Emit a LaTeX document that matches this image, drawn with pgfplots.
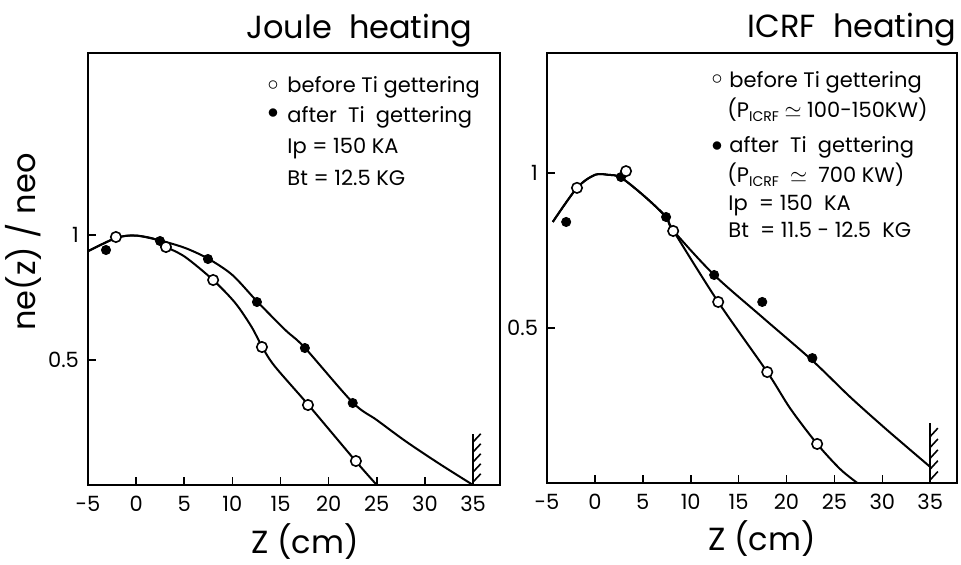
\documentclass[border=0pt]{standalone}
\usepackage{pgfplots}
\pgfplotsset{compat=1.18}
\usepackage{fontspec}
\setmainfont{Poppins}
\tikzset{hatch/.style={line width=0.8pt}}
\begin{document}
\begin{tikzpicture}
\useasboundingbox (0,0) rectangle (480.5pt,-282pt);
\pgfplotsset{
 panel/.style={
  scale only axis, anchor=south west,
  xmin=-5, xmax=37.8, ymin=0,
  axis line style={line width=1pt},
  xtick={-5,0,...,35}, ytick={0.5,1},
  xtick pos=bottom, ytick pos=left, tick align=inside,
  major tick length=4pt, tick style={line width=0.8pt, black},
  /pgf/number format/assume math mode=true,
  ticklabel style={font=\fontsize{10.5}{12}\selectfont},
  xticklabel style={yshift=-2pt},
  yticklabel style={xshift=-1pt},
 },
 curve/.style={smooth, line width=1pt, black, no markers},
 filled/.style={only marks, mark=*, mark size=2.3pt, mark options={fill=black, draw=black}},
 hollow/.style={only marks, mark=*, mark size=2.6pt, mark options={fill=white, draw=black, line width=0.8pt}},
}
% ---------------- Joule heating ----------------
\begin{axis}[panel, at={(44pt,-242.5pt)}, width=206pt, height=216pt, ymax=1.728]
\addplot[curve] coordinates {(-5,0.935) (-2.1,0.988) (-0.1,0.998) (2.5,0.978) (5.1,0.948) (7.5,0.905) (10.0,0.84) (12.55,0.735) (15.5,0.62) (17.5,0.55) (22.5,0.33) (25,0.26) (28,0.175) (31.5,0.085) (35,0.0)};
\addplot[curve] coordinates {(-5,0.935) (-2.1,0.988) (-0.1,0.998) (2.0,0.983) (3.1,0.953) (5.1,0.912) (8.0,0.82) (10.3,0.728) (12.0,0.632) (13.1,0.552) (14.4,0.475) (17.9,0.32) (22.8,0.096) (25,0.0)};
\addplot[filled] coordinates {(-3.13,0.94) (2.48,0.976) (7.46,0.904) (12.55,0.732) (17.53,0.548) (22.5,0.328)};
\addplot[hollow] coordinates {(-2.1,0.992) (3.1,0.952) (8.0,0.82) (13.07,0.552) (17.85,0.32) (22.83,0.096)};
\draw[line width=1pt] (axis cs:35,0) -- (axis cs:35,0.205);
\draw[hatch] (axis cs:35,0.012) -- (axis cs:35.8,0.045);
\draw[hatch] (axis cs:35,0.052) -- (axis cs:35.8,0.085);
\draw[hatch] (axis cs:35,0.092) -- (axis cs:35.8,0.125);
\draw[hatch] (axis cs:35,0.132) -- (axis cs:35.8,0.165);
\draw[hatch] (axis cs:35,0.172) -- (axis cs:35.8,0.205);
\end{axis}
% ---------------- ICRF heating ----------------
\begin{axis}[panel, at={(273.5pt,-241.5pt)}, width=205pt, height=215pt, ymax=1.387]
\addplot[curve] coordinates {(-4.4,0.842) (-1.87,0.952) (0.0,0.994) (1.4,0.994) (2.73,0.985) (5.24,0.923) (7.43,0.858) (8.17,0.815) (12.45,0.671) (17.47,0.535) (22.7,0.395) (26.66,0.277) (30.5,0.171) (35,0.052)};
\addplot[curve] coordinates {(-4.4,0.842) (-1.87,0.952) (0.0,0.994) (1.4,0.994) (2.73,0.985) (5.24,0.923) (7.43,0.858) (8.17,0.815) (12.87,0.584) (17.99,0.358) (20.4,0.24) (23.2,0.126) (25.6,0.045) (27.4,0.0)};
\addplot[filled] coordinates {(-3.0,0.842) (2.73,0.987) (7.43,0.858) (12.45,0.671) (17.47,0.584) (22.7,0.403)};
\addplot[hollow] coordinates {(-1.87,0.952) (3.25,1.006) (8.17,0.813) (12.87,0.584) (17.99,0.358) (23.2,0.126)};
\draw[line width=1pt] (axis cs:35,0) -- (axis cs:35,0.194);
\draw[hatch] (axis cs:35,0.010) -- (axis cs:35.8,0.037);
\draw[hatch] (axis cs:35,0.045) -- (axis cs:35.8,0.072);
\draw[hatch] (axis cs:35,0.080) -- (axis cs:35.8,0.107);
\draw[hatch] (axis cs:35,0.115) -- (axis cs:35.8,0.142);
\draw[hatch] (axis cs:35,0.150) -- (axis cs:35.8,0.177);
\end{axis}
% ---------------- text ----------------
\begin{scope}[x=0.5pt,y=-0.5pt]
\node[anchor=base east, inner sep=0pt, font=\fontsize{16}{18}\selectfont] at (473,38) {Joule\ \ heating};
\node[anchor=base east, inner sep=0pt, font=\fontsize{16}{18}\selectfont] at (957,37) {ICRF\ \ heating};
\node[anchor=base, inner sep=0pt, font=\fontsize{16}{18}\selectfont] at (305,553) {Z (cm)};
\node[anchor=base, inner sep=0pt, font=\fontsize{16}{18}\selectfont] at (762,550) {Z (cm)};
\node[anchor=base, rotate=90, inner sep=0pt, font=\fontsize{16}{18}\selectfont] at (35,242) {ne(z) / neo};
% left legend
\begin{scope}[every node/.style={anchor=base west, inner sep=0pt, font=\fontsize{10.5}{12}\selectfont}]
\node[anchor=center] at (273,86) {$\circ$};
\node[anchor=center] at (273,114) {$\bullet$};
\node at (287,92) {before Ti gettering};
\node at (287,122) {after\ \ Ti\ \ gettering};
\node at (287,153) {Ip = 150 KA};
\node at (287,185) {Bt = 12.5 KG};
% right legend
\node[anchor=center] at (717,80) {$\circ$};
\node[anchor=center] at (717,147) {$\bullet$};
\node at (729,87) {before Ti gettering};
\node at (727,117) {(P\raisebox{-0.4ex}{\fontsize{7}{8}\selectfont ICRF} $\simeq$ 100-150KW)};
\node at (729,152) {after\ \ Ti\ \ gettering};
\node at (727,182) {(P\raisebox{-0.4ex}{\fontsize{7}{8}\selectfont ICRF} \ $\simeq$\ \ 700 KW)};
\node at (728,210) {Ip\ \ = 150\ \ KA};
\node at (728,237) {Bt\ \ = 11.5 - 12.5\ \ KG};
\end{scope}
\end{scope}
\end{tikzpicture}
\end{document}
